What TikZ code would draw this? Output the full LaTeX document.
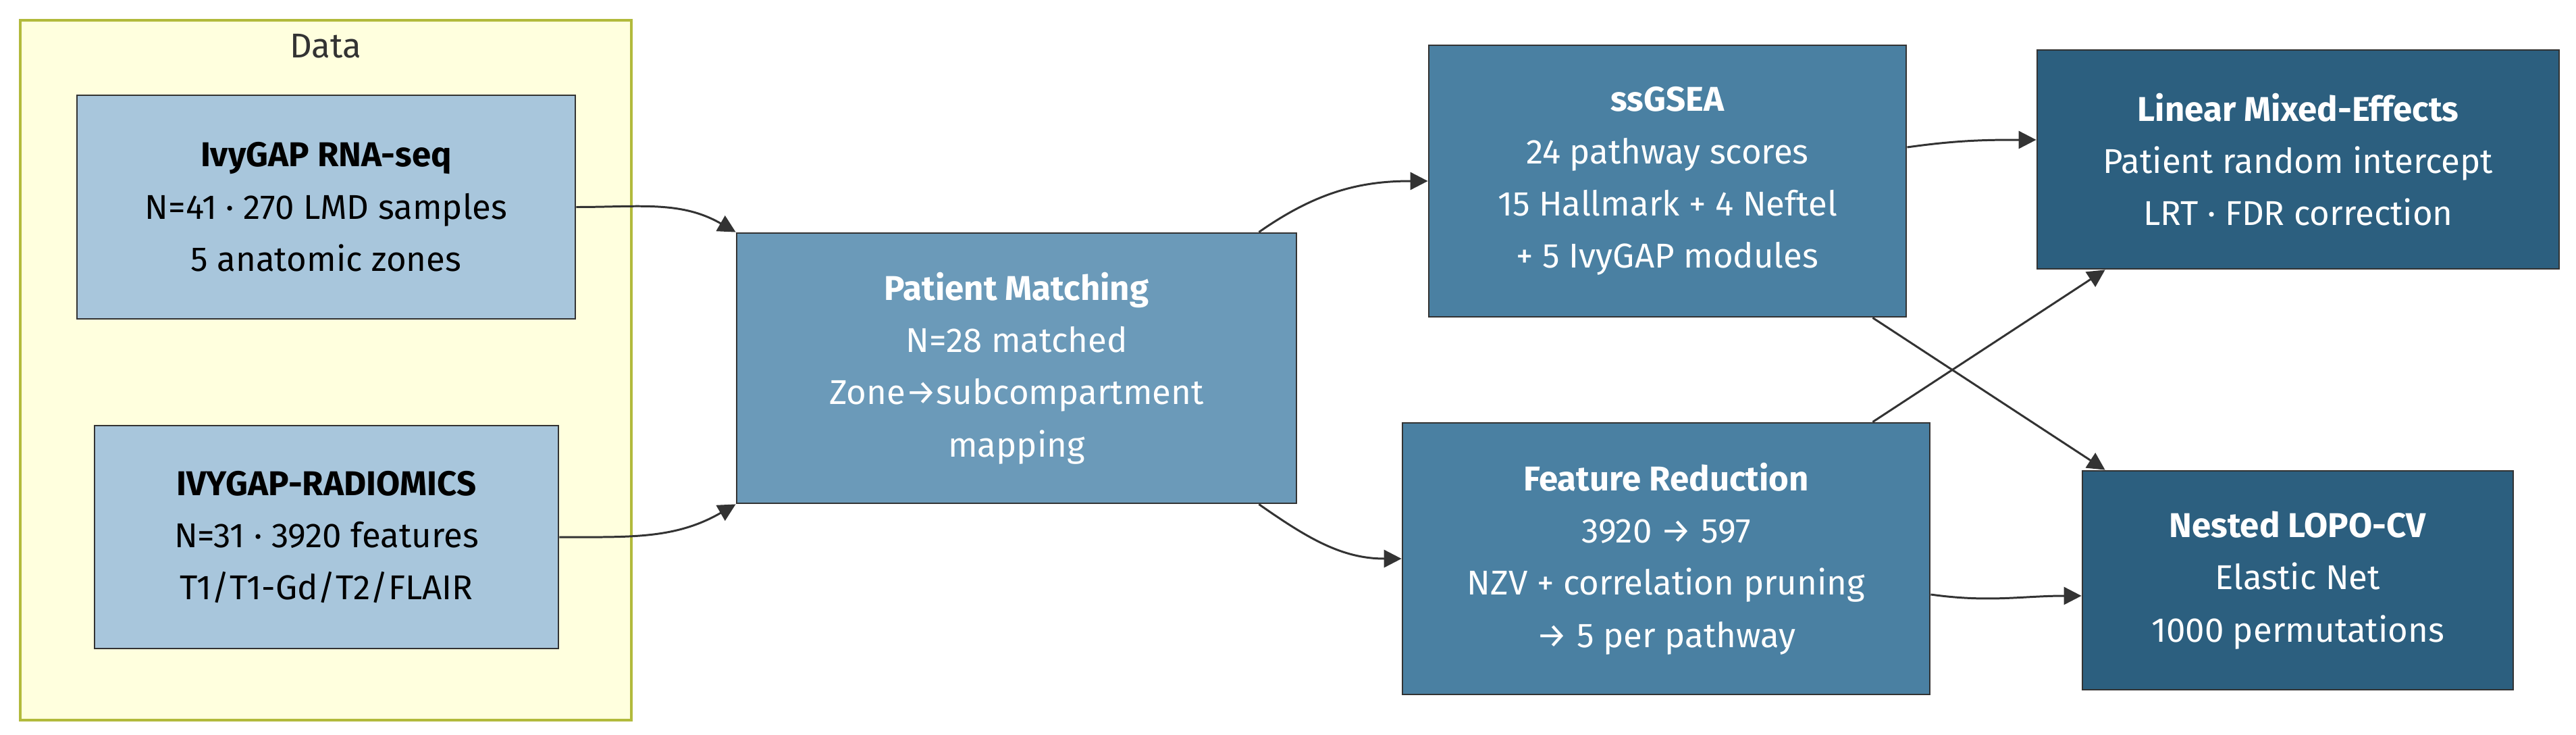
\documentclass[tikz,border=0pt]{standalone}
\usepackage{fontspec}
\setmainfont{Fira Sans}
\usepackage{tikz}
\usetikzlibrary{calc, positioning, arrows.meta}
\usepackage{xcolor}
\definecolor{dataFill}{RGB}{255, 255, 222}
\definecolor{dataLine}{RGB}{178, 186, 60}
\definecolor{stepA}{RGB}{168, 198, 220}
\definecolor{stepB}{RGB}{107, 154, 185}
\definecolor{stepC}{RGB}{74, 128, 162}
\definecolor{stepD}{RGB}{44, 95, 127}
\definecolor{edgeGray}{RGB}{51, 51, 51}

\begin{document}
\begin{tikzpicture}[font=\fontsize{14.5}{22}\selectfont,
  box/.style={draw=edgeGray, line width=0.8pt, align=center, inner sep=0pt},
  flow/.style={draw=edgeGray, line width=0.85pt, -{Triangle[length=0.26cm, width=0.26cm]}}]
  \useasboundingbox (0,0) rectangle (38.15,-10.88);

  % Data cluster
  \node[draw=dataLine, fill=dataFill, line width=1pt, minimum width=9.05cm, minimum height=10.36cm] (data) at (4.825,-5.48) {};
  \node[text=black!80] (datalbl) at (4.825,-0.68) {Data};
  \node[box, fill=stepA, text=black, minimum width=7.38cm, minimum height=3.31cm] (rna) at (4.83,-3.065)
    {\textbf{IvyGAP RNA-seq}\\N=41 · 270 LMD samples\\5 anatomic zones};
  \node[box, fill=stepA, text=black, minimum width=6.87cm, minimum height=3.30cm] (rad) at (4.835,-7.95)
    {\textbf{IVYGAP-RADIOMICS}\\N=31 · 3920 features\\T1/T1-Gd/T2/FLAIR};

  % processing
  \node[box, fill=stepB, text=white, minimum width=8.29cm, minimum height=4.0cm] (match) at (15.055,-5.45)
    {\textbf{Patient Matching}\\N=28 matched\\Zone→subcompartment\\mapping};
  \node[box, fill=stepC, text=white, minimum width=7.07cm, minimum height=4.02cm] (gsea) at (24.695,-2.68)
    {\textbf{ssGSEA}\\24 pathway scores\\15 Hallmark + 4 Neftel\\+ 5 IvyGAP modules};
  \node[box, fill=stepC, text=white, minimum width=7.81cm, minimum height=4.02cm] (feat) at (24.675,-8.27)
    {\textbf{Feature Reduction}\\3920 → 597\\NZV + correlation pruning\\→ 5 per pathway};

  % models
  \node[box, fill=stepD, text=white, minimum width=7.73cm, minimum height=3.24cm] (lme) at (34.035,-2.36)
    {\textbf{Linear Mixed-Effects}\\Patient random intercept\\LRT · FDR correction};
  \node[box, fill=stepD, text=white, minimum width=6.38cm, minimum height=3.24cm] (lopo) at (34.03,-8.59)
    {\textbf{Nested LOPO-CV}\\Elastic Net\\1000 permutations};

  % connectors
  \draw[flow] (rna.east) to[out=0, in=150] (match.north west);
  \draw[flow] (rad.east) to[out=0, in=210] (match.south west);
  \draw[flow] ($(match.north east)+(-0.57,0)$) to[out=35, in=180] (gsea.west);
  \draw[flow] ($(match.south east)+(-0.57,0)$) to[out=-35, in=180] (feat.west);
  \draw[flow] ($(gsea.east)+(0,0.5)$) to[out=8, in=180] ($(lme.west)+(0,0.29)$);
  \draw[flow] ($(gsea.south east)+(-0.51,0)$) -- ($(lopo.north west)+(0.35,0)$);
  \draw[flow] ($(feat.north east)+(-0.86,0)$) -- ($(lme.south west)+(1.02,0)$);
  \draw[flow] ($(feat.east)+(0,-0.53)$) to[out=-8, in=180] ($(lopo.west)+(0,-0.23)$);
\end{tikzpicture}
\end{document}
